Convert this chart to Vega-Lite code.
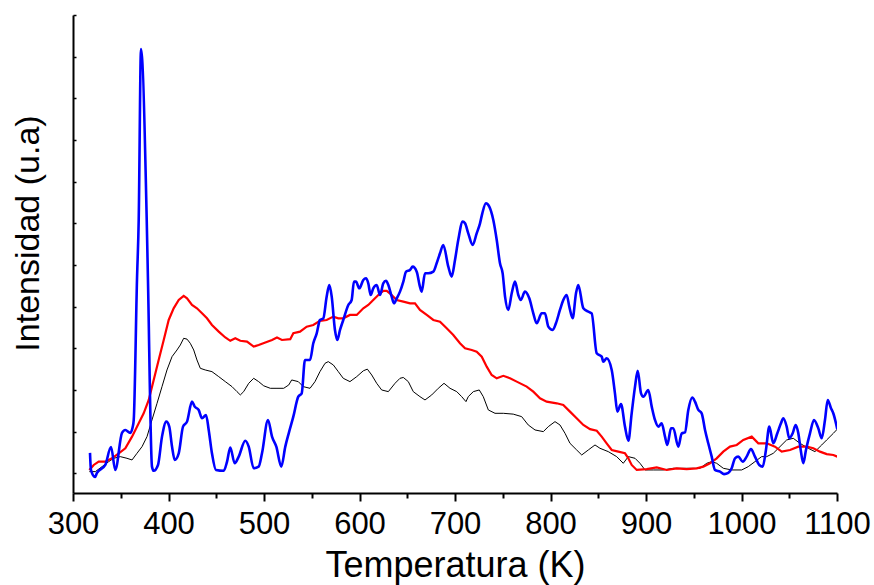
{
  "$schema": "https://vega.github.io/schema/vega-lite/v6.json",
  "width": 764,
  "height": 478,
  "autosize": "none",
  "padding": {"left": 73, "top": 15, "right": 37, "bottom": 92},
  "background": "white",
  "config": {
    "view": {"stroke": null},
    "font": "Liberation Sans",
    "axis": {"grid": false, "domainColor": "black", "tickColor": "black", "labelColor": "black", "titleColor": "black", "labelFont": "Liberation Sans", "titleFont": "Liberation Sans", "titleFontWeight": "normal"}
  },
  "datasets": {
    "black": [
      {"T":317.1,"I":0.04},{"T":323.4,"I":0.04},{"T":330.4,"I":0.16},{"T":337.4,"I":0.28},{"T":342.6,"I":0.36},{"T":349.5,"I":0.40},{"T":356.5,"I":0.36},{"T":361.8,"I":0.32},{"T":367.0,"I":0.48},{"T":372.3,"I":0.64},{"T":377.5,"I":0.88},{"T":382.7,"I":1.28},{"T":388.0,"I":1.68},{"T":393.2,"I":2.08},{"T":398.4,"I":2.48},{"T":403.7,"I":2.80},{"T":408.9,"I":2.96},{"T":412.4,"I":3.08},{"T":415.9,"I":3.24},{"T":419.4,"I":3.22},{"T":422.8,"I":3.12},{"T":426.4,"I":2.96},{"T":429.8,"I":2.72},{"T":433.3,"I":2.52},{"T":438.5,"I":2.48},{"T":445.5,"I":2.44},{"T":452.6,"I":2.32},{"T":459.5,"I":2.20},{"T":466.5,"I":2.08},{"T":471.7,"I":1.96},{"T":475.2,"I":1.88},{"T":478.7,"I":1.96},{"T":484.0,"I":2.16},{"T":489.2,"I":2.28},{"T":494.4,"I":2.20},{"T":499.7,"I":2.10},{"T":506.6,"I":2.04},{"T":513.6,"I":2.04},{"T":520.6,"I":2.04},{"T":525.9,"I":2.12},{"T":529.0,"I":2.24},{"T":535.9,"I":2.20},{"T":541.1,"I":2.08},{"T":548.2,"I":2.04},{"T":553.4,"I":2.20},{"T":558.6,"I":2.44},{"T":563.9,"I":2.64},{"T":567.3,"I":2.68},{"T":572.6,"I":2.60},{"T":577.8,"I":2.44},{"T":583.0,"I":2.28},{"T":590.0,"I":2.20},{"T":597.1,"I":2.32},{"T":604.0,"I":2.46},{"T":608.2,"I":2.50},{"T":612.8,"I":2.36},{"T":618.0,"I":2.16},{"T":623.2,"I":2.00},{"T":630.2,"I":1.96},{"T":637.2,"I":2.16},{"T":642.4,"I":2.28},{"T":645.9,"I":2.30},{"T":651.1,"I":2.20},{"T":656.3,"I":1.96},{"T":663.3,"I":1.84},{"T":668.6,"I":1.76},{"T":675.6,"I":1.88},{"T":682.5,"I":2.04},{"T":688.5,"I":2.16},{"T":694.8,"I":2.04},{"T":701.8,"I":1.96},{"T":707.0,"I":1.84},{"T":711.5,"I":1.72},{"T":713.9,"I":1.84},{"T":719.2,"I":1.96},{"T":725.4,"I":2.00},{"T":729.6,"I":1.84},{"T":734.9,"I":1.52},{"T":741.9,"I":1.44},{"T":750.6,"I":1.44},{"T":761.0,"I":1.42},{"T":769.8,"I":1.36},{"T":776.7,"I":1.16},{"T":783.8,"I":1.04},{"T":792.5,"I":1.00},{"T":797.7,"I":1.12},{"T":804.7,"I":1.24},{"T":809.9,"I":1.16},{"T":815.2,"I":0.96},{"T":820.4,"I":0.72},{"T":827.4,"I":0.56},{"T":832.7,"I":0.44},{"T":839.6,"I":0.56},{"T":846.6,"I":0.68},{"T":851.8,"I":0.60},{"T":860.5,"I":0.52},{"T":869.3,"I":0.40},{"T":876.2,"I":0.24},{"T":881.5,"I":0.40},{"T":888.5,"I":0.36},{"T":893.7,"I":0.24},{"T":899.0,"I":0.08},{"T":907.6,"I":0.08},{"T":918.1,"I":0.08},{"T":928.6,"I":0.12},{"T":937.4,"I":0.12},{"T":947.8,"I":0.12},{"T":956.5,"I":0.12},{"T":963.6,"I":0.24},{"T":968.8,"I":0.28},{"T":974.0,"I":0.24},{"T":981.0,"I":0.12},{"T":989.7,"I":0.08},{"T":1000.2,"I":0.08},{"T":1007.1,"I":0.16},{"T":1014.1,"I":0.28},{"T":1021.1,"I":0.40},{"T":1026.4,"I":0.40},{"T":1033.3,"I":0.48},{"T":1040.3,"I":0.64},{"T":1047.3,"I":0.80},{"T":1054.2,"I":0.84},{"T":1061.2,"I":0.72},{"T":1069.9,"I":0.60},{"T":1076.9,"I":0.52},{"T":1084.0,"I":0.68},{"T":1089.2,"I":0.80},{"T":1096.2,"I":0.96},{"T":1100.3,"I":1.06}
    ],
    "red": [
      {"T":317.1,"I":0.08},{"T":321.7,"I":0.20},{"T":326.9,"I":0.28},{"T":333.8,"I":0.28},{"T":340.8,"I":0.36},{"T":347.9,"I":0.48},{"T":354.8,"I":0.60},{"T":361.8,"I":0.88},{"T":368.8,"I":1.20},{"T":374.0,"I":1.44},{"T":379.3,"I":1.76},{"T":384.5,"I":2.24},{"T":389.7,"I":2.72},{"T":395.0,"I":3.20},{"T":400.2,"I":3.68},{"T":405.4,"I":3.96},{"T":410.7,"I":4.16},{"T":415.9,"I":4.26},{"T":419.4,"I":4.20},{"T":424.6,"I":4.04},{"T":429.8,"I":3.96},{"T":435.1,"I":3.84},{"T":440.3,"I":3.72},{"T":445.5,"I":3.56},{"T":452.6,"I":3.40},{"T":459.5,"I":3.26},{"T":464.7,"I":3.18},{"T":469.9,"I":3.24},{"T":475.2,"I":3.18},{"T":482.2,"I":3.16},{"T":489.2,"I":3.04},{"T":494.4,"I":3.08},{"T":501.4,"I":3.14},{"T":508.4,"I":3.20},{"T":513.6,"I":3.26},{"T":518.8,"I":3.20},{"T":527.5,"I":3.22},{"T":530.7,"I":3.36},{"T":537.7,"I":3.40},{"T":544.7,"I":3.52},{"T":551.6,"I":3.56},{"T":558.6,"I":3.66},{"T":565.6,"I":3.68},{"T":572.6,"I":3.76},{"T":577.8,"I":3.72},{"T":583.0,"I":3.72},{"T":590.0,"I":3.80},{"T":597.1,"I":3.80},{"T":604.0,"I":3.96},{"T":609.2,"I":4.04},{"T":614.4,"I":4.16},{"T":619.7,"I":4.28},{"T":624.9,"I":4.38},{"T":628.5,"I":4.38},{"T":633.7,"I":4.28},{"T":638.9,"I":4.16},{"T":645.9,"I":4.12},{"T":652.9,"I":4.08},{"T":658.1,"I":4.08},{"T":663.3,"I":3.92},{"T":670.4,"I":3.80},{"T":677.3,"I":3.68},{"T":684.3,"I":3.64},{"T":691.3,"I":3.48},{"T":698.2,"I":3.32},{"T":705.2,"I":3.12},{"T":710.5,"I":3.00},{"T":717.5,"I":2.96},{"T":722.7,"I":2.92},{"T":728.0,"I":2.80},{"T":733.2,"I":2.56},{"T":738.4,"I":2.36},{"T":743.7,"I":2.28},{"T":750.6,"I":2.34},{"T":757.6,"I":2.28},{"T":764.6,"I":2.20},{"T":775.1,"I":2.08},{"T":782.0,"I":1.96},{"T":789.0,"I":1.80},{"T":796.0,"I":1.72},{"T":806.5,"I":1.68},{"T":813.4,"I":1.64},{"T":820.4,"I":1.48},{"T":827.4,"I":1.32},{"T":834.4,"I":1.16},{"T":841.4,"I":1.06},{"T":848.4,"I":1.02},{"T":853.6,"I":0.88},{"T":858.8,"I":0.72},{"T":864.1,"I":0.56},{"T":871.0,"I":0.52},{"T":878.0,"I":0.48},{"T":881.5,"I":0.36},{"T":885.0,"I":0.20},{"T":890.3,"I":0.08},{"T":900.7,"I":0.10},{"T":911.2,"I":0.14},{"T":921.7,"I":0.08},{"T":932.1,"I":0.12},{"T":942.6,"I":0.10},{"T":953.1,"I":0.12},{"T":960.0,"I":0.16},{"T":967.0,"I":0.24},{"T":974.0,"I":0.36},{"T":980.9,"I":0.52},{"T":988.0,"I":0.64},{"T":995.0,"I":0.68},{"T":1001.9,"I":0.80},{"T":1010.7,"I":0.88},{"T":1017.6,"I":0.72},{"T":1026.4,"I":0.72},{"T":1035.1,"I":0.64},{"T":1042.1,"I":0.52},{"T":1050.8,"I":0.56},{"T":1059.5,"I":0.64},{"T":1068.3,"I":0.64},{"T":1075.2,"I":0.60},{"T":1082.2,"I":0.52},{"T":1089.2,"I":0.46},{"T":1096.2,"I":0.44},{"T":1100.3,"I":0.40}
    ],
    "blue": [
      {"T":317.8,"I":0.49},{"T":318.8,"I":0.08},{"T":323.0,"I":-0.09},{"T":325.1,"I":0.01},{"T":333.8,"I":0.20},{"T":339.8,"I":0.63},{"T":344.3,"I":0.08},{"T":351.3,"I":0.97},{"T":354.8,"I":1.04},{"T":360.0,"I":0.97},{"T":362.5,"I":1.11},{"T":363.6,"I":1.28},{"T":367.0,"I":4.64},{"T":368.8,"I":6.08},{"T":371.2,"I":10.18},{"T":377.2,"I":6.08},{"T":378.5,"I":4.64},{"T":382.7,"I":0.16},{"T":384.5,"I":0.06},{"T":389.0,"I":0.20},{"T":393.2,"I":0.88},{"T":397.7,"I":1.24},{"T":400.8,"I":1.12},{"T":403.7,"I":0.64},{"T":406.5,"I":0.32},{"T":410.7,"I":0.48},{"T":415.2,"I":1.12},{"T":419.4,"I":1.24},{"T":424.6,"I":1.72},{"T":427.4,"I":1.60},{"T":431.6,"I":1.52},{"T":435.1,"I":1.32},{"T":439.3,"I":1.40},{"T":442.1,"I":1.04},{"T":445.5,"I":0.48},{"T":449.7,"I":0.08},{"T":457.8,"I":0.06},{"T":461.3,"I":0.28},{"T":464.7,"I":0.62},{"T":469.3,"I":0.24},{"T":473.5,"I":0.40},{"T":480.4,"I":0.78},{"T":484.0,"I":0.64},{"T":489.2,"I":0.12},{"T":494.4,"I":0.16},{"T":497.9,"I":0.48},{"T":504.2,"I":1.28},{"T":508.4,"I":0.88},{"T":512.9,"I":0.64},{"T":518.1,"I":0.16},{"T":522.3,"I":0.64},{"T":525.9,"I":0.96},{"T":530.7,"I":1.36},{"T":535.9,"I":1.84},{"T":539.5,"I":1.92},{"T":542.9,"I":2.72},{"T":548.2,"I":2.72},{"T":551.6,"I":3.12},{"T":555.2,"I":3.36},{"T":558.6,"I":3.68},{"T":562.1,"I":3.72},{"T":565.6,"I":4.24},{"T":568.4,"I":4.52},{"T":570.9,"I":4.24},{"T":574.3,"I":3.44},{"T":576.8,"I":3.20},{"T":579.6,"I":3.44},{"T":583.0,"I":3.68},{"T":588.3,"I":4.04},{"T":591.8,"I":4.16},{"T":594.2,"I":4.60},{"T":596.3,"I":4.60},{"T":599.8,"I":4.44},{"T":604.0,"I":4.64},{"T":606.8,"I":4.68},{"T":609.2,"I":4.56},{"T":611.7,"I":4.28},{"T":614.4,"I":4.44},{"T":618.0,"I":4.52},{"T":621.5,"I":4.28},{"T":624.9,"I":4.56},{"T":627.7,"I":4.62},{"T":630.2,"I":4.52},{"T":633.7,"I":4.24},{"T":636.1,"I":4.08},{"T":639.0,"I":4.20},{"T":642.4,"I":4.36},{"T":645.9,"I":4.60},{"T":648.7,"I":4.84},{"T":652.9,"I":4.88},{"T":655.7,"I":4.96},{"T":659.9,"I":4.84},{"T":663.3,"I":4.48},{"T":665.1,"I":4.36},{"T":668.6,"I":4.80},{"T":672.0,"I":4.80},{"T":677.3,"I":4.84},{"T":680.8,"I":5.04},{"T":684.3,"I":5.28},{"T":687.7,"I":5.48},{"T":693.0,"I":4.96},{"T":696.5,"I":4.72},{"T":700.0,"I":5.12},{"T":703.4,"I":5.60},{"T":708.1,"I":6.04},{"T":710.5,"I":6.00},{"T":713.9,"I":5.76},{"T":718.5,"I":5.48},{"T":722.7,"I":5.76},{"T":726.2,"I":6.00},{"T":728.6,"I":6.24},{"T":732.4,"I":6.48},{"T":735.9,"I":6.40},{"T":740.1,"I":6.08},{"T":743.7,"I":5.60},{"T":747.1,"I":5.04},{"T":749.9,"I":4.80},{"T":752.4,"I":4.24},{"T":755.8,"I":3.92},{"T":759.4,"I":4.32},{"T":762.8,"I":4.60},{"T":766.3,"I":4.28},{"T":768.8,"I":4.16},{"T":773.3,"I":4.36},{"T":777.8,"I":4.20},{"T":782.0,"I":3.84},{"T":785.5,"I":3.60},{"T":790.8,"I":3.84},{"T":794.2,"I":3.84},{"T":797.7,"I":3.52},{"T":802.3,"I":3.44},{"T":805.7,"I":3.60},{"T":809.9,"I":3.92},{"T":813.4,"I":4.16},{"T":816.9,"I":4.28},{"T":819.7,"I":4.00},{"T":823.2,"I":3.72},{"T":826.7,"I":4.32},{"T":829.1,"I":4.52},{"T":834.4,"I":3.96},{"T":839.6,"I":3.88},{"T":843.1,"I":3.84},{"T":848.4,"I":2.88},{"T":853.6,"I":2.80},{"T":855.3,"I":2.68},{"T":858.8,"I":2.76},{"T":864.1,"I":2.48},{"T":867.5,"I":1.92},{"T":870.0,"I":1.48},{"T":873.8,"I":1.66},{"T":878.0,"I":1.12},{"T":881.5,"I":0.78},{"T":885.0,"I":1.44},{"T":888.5,"I":2.08},{"T":891.3,"I":2.46},{"T":894.8,"I":1.92},{"T":897.2,"I":1.84},{"T":902.4,"I":2.00},{"T":906.0,"I":1.60},{"T":909.4,"I":1.28},{"T":912.9,"I":1.12},{"T":916.4,"I":1.20},{"T":919.9,"I":0.88},{"T":922.3,"I":0.68},{"T":926.2,"I":1.08},{"T":928.6,"I":1.08},{"T":933.8,"I":0.64},{"T":937.4,"I":0.96},{"T":940.8,"I":0.98},{"T":944.3,"I":1.52},{"T":948.5,"I":1.82},{"T":951.3,"I":1.72},{"T":954.8,"I":1.52},{"T":958.3,"I":1.44},{"T":961.8,"I":1.04},{"T":965.2,"I":0.72},{"T":968.8,"I":0.40},{"T":972.2,"I":0.08},{"T":977.5,"I":0.04},{"T":981.7,"I":-0.02},{"T":986.2,"I":0.01},{"T":989.7,"I":0.12},{"T":993.2,"I":0.36},{"T":996.6,"I":0.40},{"T":1001.3,"I":0.28},{"T":1005.4,"I":0.40},{"T":1009.9,"I":0.58},{"T":1014.1,"I":0.40},{"T":1018.6,"I":0.20},{"T":1022.2,"I":0.16},{"T":1025.6,"I":0.56},{"T":1029.1,"I":1.12},{"T":1033.3,"I":0.72},{"T":1037.5,"I":0.96},{"T":1041.3,"I":1.20},{"T":1043.8,"I":1.32},{"T":1047.3,"I":1.12},{"T":1050.0,"I":0.84},{"T":1053.6,"I":0.96},{"T":1056.7,"I":1.16},{"T":1059.5,"I":0.96},{"T":1062.0,"I":0.56},{"T":1064.7,"I":0.24},{"T":1067.5,"I":0.56},{"T":1071.7,"I":0.96},{"T":1075.9,"I":1.28},{"T":1080.4,"I":1.08},{"T":1084.0,"I":0.84},{"T":1087.4,"I":1.28},{"T":1090.3,"I":1.76},{"T":1093.7,"I":1.56},{"T":1096.1,"I":1.44},{"T":1100.3,"I":1.06}
    ]
  },
  "layer": [
    {
      "data": {"name": "black"},
      "mark": {"type": "line", "color": "black", "strokeWidth": 1, "clip": true},
      "encoding": {
        "x": {"field": "T", "type": "quantitative", "scale": {"domain": [300, 1100], "nice": false, "zero": false},
          "axis": {"orient": "bottom", "values": [300,400,500,600,700,800,900,1000,1100], "format": "d", "title": "Temperatura (K)", "titleFontSize": 36, "titleBaseline": "alphabetic", "titleY": 83, "labelFontSize": 31, "labelPadding": 8, "tickSize": 8, "tickWidth": 2, "domainWidth": 2, "labelFlush": false, "labelOverlap": false}},
        "y": {"field": "I", "type": "quantitative", "scale": {"domain": [-0.473, 11], "nice": false, "zero": false},
          "axis": {"values": [0,1,2,3,4,5,6,7,8,9,10,11], "labels": false, "tickSize": -3, "tickWidth": 1.5, "domainWidth": 2, "title": "Intensidad (u.a)", "titleFontSize": 34, "titleBaseline": "alphabetic", "titleX": -35, "titleY": 218, "titleAngle": -90, "titleAlign": "center"}}
      }
    },
    {
      "data": {"name": "red"},
      "mark": {"type": "line", "color": "#ff0000", "strokeWidth": 2.2, "clip": true},
      "encoding": {
        "x": {"field": "T", "type": "quantitative",
          "axis": {"orient": "bottom", "values": [350,450,550,650,750,850,950,1050], "labels": false, "title": null, "domain": false, "tickSize": 5, "tickWidth": 2}},
        "y": {"field": "I", "type": "quantitative"}
      }
    },
    {
      "data": {"name": "blue"},
      "mark": {"type": "line", "color": "#0000ff", "strokeWidth": 2.6, "interpolate": "monotone", "clip": true},
      "encoding": {
        "x": {"field": "T", "type": "quantitative", "axis": null},
        "y": {"field": "I", "type": "quantitative"}
      }
    }
  ],
  "resolve": {"axis": {"x": "independent"}}
}
